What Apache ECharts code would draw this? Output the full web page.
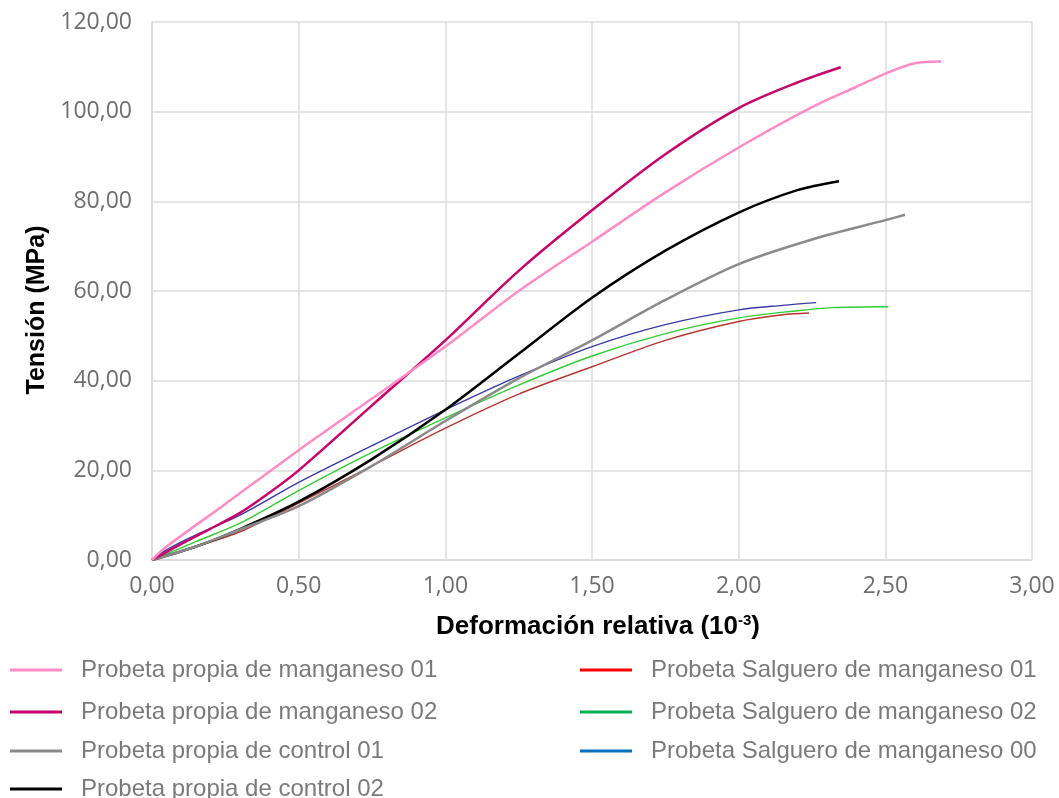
<!DOCTYPE html>
<html>
<head>
<meta charset="utf-8">
<script src="https://cdn.jsdelivr.net/npm/echarts@6/dist/echarts.min.js"></script>
<style>
  html, body { margin: 0; padding: 0; background: #fff; }
  #chart { width: 1059px; height: 798px; }
</style>
</head>
<body>
<div id="chart"></div>
<script>
// Stress–strain curves: [relative strain (10^-3), stress (MPa)]
const propiaMn01 = [[0,0],[0.05,3],[0.25,12.5],[0.5,24.5],[0.75,36],[1.0,47.6],[1.25,60],[1.5,71],[1.75,82],[2.0,92],[2.25,101],[2.4,105.5],[2.5,108.5],[2.6,110.8],[2.69,111.2]];
const propiaMn02 = [[0,0],[0.1,3.6],[0.2,7],[0.3,10.5],[0.4,15],[0.5,20],[0.75,34.5],[1.0,49],[1.25,64.5],[1.5,78],[1.75,90.5],[2.0,100.8],[2.2,106.5],[2.348,109.9]];
const propiaCtrl01 = [[0,0],[0.15,3],[0.3,6.8],[0.5,12],[0.75,21],[1.0,31],[1.25,40.5],[1.5,49],[1.75,58],[2.0,66],[2.25,71.5],[2.5,75.8],[2.567,77]];
const propiaCtrl02 = [[0,0],[0.15,3],[0.3,6.9],[0.5,13],[0.75,22.5],[1.0,33.5],[1.25,46],[1.5,58.5],[1.75,69],[2.0,77.5],[2.2,82.5],[2.342,84.5]];
const salgueroMn01 = [[0,0],[0.15,3],[0.3,6.3],[0.5,12.7],[0.75,21],[1.0,29.4],[1.25,37],[1.5,43.1],[1.75,49],[2.0,53.2],[2.15,54.7],[2.24,55.1]];
const salgueroMn02 = [[0,0],[0.15,4.1],[0.3,8.2],[0.5,15.5],[0.75,24],[1.0,31.7],[1.25,39],[1.5,45.5],[1.75,50.5],[2.0,54],[2.2,55.6],[2.32,56.3],[2.51,56.5]];
const salgueroMn00 = [[0,0],[0.05,2.3],[0.15,5.6],[0.3,10],[0.5,17.3],[0.75,25.5],[1.0,33.5],[1.25,41],[1.5,47.6],[1.75,52.5],[2.0,55.8],[2.15,56.8],[2.264,57.4]];

const seriesNames = [
  'Probeta propia de manganeso 01',
  'Probeta propia de manganeso 02',
  'Probeta propia de control 01',
  'Probeta propia de control 02',
  'Probeta Salguero de manganeso 01',
  'Probeta Salguero de manganeso 02',
  'Probeta Salguero de manganeso 00'
];
const seriesData = [propiaMn01, propiaMn02, propiaCtrl01, propiaCtrl02, salgueroMn01, salgueroMn02, salgueroMn00];
const lineColors = ['#ff8cc6', '#c8036c', '#8a8a8a', '#000000', '#b8352f', '#33cc33', '#3a3aa6'];
const legendColors = ['#ff8cc6', '#c8036c', '#8a8a8a', '#000000', '#ff0000', '#00b050', '#0070c0'];
const lineWidths = [2.5, 2.5, 2.5, 2.5, 1.4, 1.4, 1.4];

const xTitle = 'Deformación relativa (10';
const xTitleSup = '-3';
const yTitle = 'Tensión (MPa)';

const fmt = v => v.toFixed(2).replace('.', ',');

// legend entries: left column (4 rows), right column (3 rows)
const legendPos = [
  { left: 5, top: 653 }, { left: 5, top: 695 }, { left: 5, top: 734 }, { left: 5, top: 772 },
  { left: 575, top: 653 }, { left: 575, top: 695 }, { left: 575, top: 734 }
];
const legends = seriesNames.map((name, i) => ({
  left: legendPos[i].left,
  top: legendPos[i].top,
  icon: 'rect',
  itemWidth: 52,
  itemHeight: 3,
  selectedMode: false,
  data: [{ name: name, itemStyle: { color: legendColors[i] } }],
  textStyle: {
    fontFamily: 'Liberation Sans, Arial, sans-serif',
    fontSize: 24,
    color: '#7a7a7a',
    padding: [0, 0, 0, 14]
  }
}));

const tickLabel = {
  formatter: fmt,
  fontFamily: 'Open Sans, sans-serif',
  fontSize: 23,
  color: '#6e6e6e'
};

const chart = echarts.init(document.getElementById('chart'), null, { renderer: 'canvas' });
chart.setOption({
  animation: false,
  backgroundColor: '#ffffff',
  grid: { left: 152, right: 27, top: 22, bottom: 238 },
  legend: legends,
  xAxis: {
    type: 'value',
    min: 0, max: 3, interval: 0.5,
    axisLine: { show: true, lineStyle: { color: '#d9d9d9', width: 1.5 } },
    axisTick: { show: false },
    splitLine: { show: true, lineStyle: { color: '#dcdcdc', width: 1.5 } },
    axisLabel: Object.assign({ margin: 15 }, tickLabel)
  },
  yAxis: {
    type: 'value',
    min: 0, max: 120, interval: 20,
    axisLine: { show: true, lineStyle: { color: '#d9d9d9', width: 1.5 } },
    axisTick: { show: false },
    splitLine: { show: true, lineStyle: { color: '#dcdcdc', width: 1.5 } },
    axisLabel: Object.assign({ margin: 20 }, tickLabel)
  },
  graphic: [
    {
      type: 'text',
      x: 598, y: 627,
      style: {
        text: '{t|' + xTitle + '}{s|' + xTitleSup + '}{t|)}',
        align: 'center',
        verticalAlign: 'middle',
        rich: {
          t: { fontFamily: 'Liberation Sans, Arial, sans-serif', fontSize: 26, fontWeight: 'bold', fill: '#000' },
          s: { fontFamily: 'Liberation Sans, Arial, sans-serif', fontSize: 15, fontWeight: 'bold', fill: '#000', padding: [0, 0, 12, 0] }
        }
      }
    },
    {
      type: 'text',
      x: 37, y: 310,
      rotation: Math.PI / 2,
      style: {
        text: yTitle,
        align: 'center',
        verticalAlign: 'middle',
        fontFamily: 'Liberation Sans, Arial, sans-serif',
        fontSize: 25,
        fontWeight: 'bold',
        fill: '#000'
      }
    }
  ],
  series: seriesNames.map((name, i) => ({
    name: name,
    type: 'line',
    data: seriesData[i],
    smooth: 0.3,
    showSymbol: false,
    symbol: 'none',
    z: 10 - i,
    lineStyle: { color: lineColors[i], width: lineWidths[i] },
    itemStyle: { color: lineColors[i] }
  }))
});
</script>
</body>
</html>
